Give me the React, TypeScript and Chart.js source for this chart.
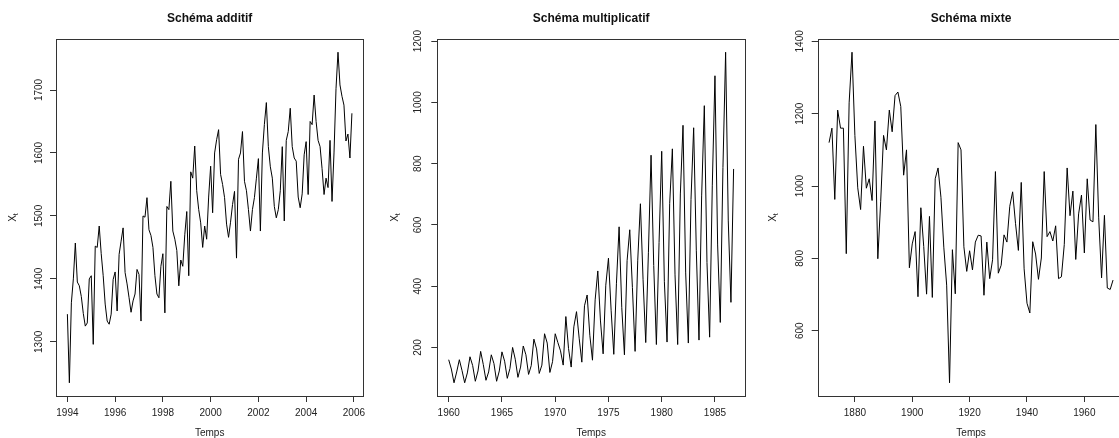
import React, { useEffect, useRef } from "react";
import { Chart, registerables } from "chart.js";

Chart.register(...registerables);

const FONT = "'Liberation Sans', Arial, Helvetica, sans-serif";

// ---- Schéma additif : série mensuelle 1994-2005 ----
const additifStart = 1994;
const additifFreq = 12;
const additifValues = [
  1344, 1235, 1362, 1400, 1457, 1395, 1389, 1372, 1345, 1325, 1330, 1400,
  1405, 1296, 1452, 1450, 1484, 1440, 1405, 1360, 1333, 1328, 1344, 1399,
  1411, 1349, 1439, 1460, 1481, 1410, 1392, 1370, 1347, 1365, 1376, 1415,
  1407, 1333, 1500, 1498, 1529, 1478, 1469, 1450, 1405, 1376, 1370, 1420,
  1440, 1346, 1515, 1510, 1555, 1476, 1463, 1445, 1389, 1430, 1420, 1470,
  1507, 1405, 1570, 1560, 1611, 1540, 1510, 1489, 1450, 1484, 1463, 1530,
  1579, 1505, 1600, 1621, 1637, 1566, 1550, 1529, 1487, 1466, 1490, 1518,
  1539, 1433, 1590, 1600, 1634, 1555, 1540, 1510, 1476, 1510, 1529, 1560,
  1591, 1476, 1600, 1645, 1680, 1610, 1578, 1560, 1515, 1497, 1510, 1540,
  1610, 1492, 1620, 1634, 1671, 1610, 1592, 1587, 1530, 1513, 1535, 1597,
  1618, 1534, 1650, 1645, 1692, 1650, 1620, 1610, 1575, 1534, 1560, 1545,
  1620, 1523, 1600, 1702, 1760, 1708, 1690, 1676, 1619, 1630, 1592, 1663,
];
const additifXTicks = [1994, 1996, 1998, 2000, 2002, 2004, 2006];
const additifYTicks = [1300, 1400, 1500, 1600, 1700];

// ---- Schéma multiplicatif : série trimestrielle 1960-1986 ----
const multStart = 1960;
const multFreq = 4;
const multValues = [
  160.1, 129.7, 84.8, 120.1,
  160.1, 124.9, 84.8, 116.9,
  169.7, 140.9, 89.7, 123.3,
  187.3, 144.1, 92.9, 120.1,
  176.1, 147.3, 89.7, 123.3,
  185.7, 155.3, 99.3, 131.3,
  200.1, 161.7, 102.5, 136.1,
  204.9, 176.1, 112.1, 140.9,
  227.3, 195.3, 115.3, 142.5,
  244.9, 214.5, 118.5, 153.7,
  244.9, 216.1, 188.9, 142.5,
  301.0, 196.9, 136.1, 267.3,
  317.0, 230.5, 152.1, 336.2,
  371.4, 240.1, 158.5, 355.4,
  449.9, 286.6, 179.3, 403.4,
  491.5, 321.8, 177.7, 409.8,
  593.9, 329.8, 176.1, 483.5,
  584.3, 395.4, 187.3, 485.1,
  669.2, 421.0, 216.1, 509.1,
  827.7, 467.5, 209.7, 542.7,
  840.5, 414.6, 217.7, 670.8,
  848.5, 437.0, 209.7, 701.2,
  925.3, 443.4, 214.5, 683.6,
  917.3, 515.5, 224.1, 694.8,
  989.4, 477.1, 233.7, 730.0,
  1087.0, 534.7, 281.8, 787.6,
  1163.9, 613.1, 347.4, 782.8,
];
const multXTicks = [1960, 1965, 1970, 1975, 1980, 1985];
const multYTicks = [200, 400, 600, 800, 1000, 1200];

// ---- Schéma mixte : série annuelle 1871-1970 ----
const mixteStart = 1871;
const mixteFreq = 1;
const mixteValues = [
  1120, 1160, 963, 1210, 1160, 1160, 813, 1230, 1370, 1140,
  995, 935, 1110, 994, 1020, 960, 1180, 799, 958, 1140,
  1100, 1210, 1150, 1250, 1260, 1220, 1030, 1100, 774, 840,
  874, 694, 940, 833, 701, 916, 692, 1020, 1050, 969,
  831, 726, 456, 824, 702, 1120, 1100, 832, 764, 821,
  768, 845, 864, 862, 698, 845, 744, 796, 1040, 759,
  781, 865, 845, 944, 984, 897, 822, 1010, 771, 676,
  649, 846, 812, 742, 801, 1040, 860, 874, 848, 890,
  744, 749, 838, 1050, 918, 986, 797, 923, 975, 815,
  1020, 906, 901, 1170, 912, 746, 919, 718, 714, 740,
];
const mixteXTicks = [1880, 1900, 1920, 1940, 1960];
const mixteYTicks = [600, 800, 1000, 1200, 1400];

const titles = ["Schéma additif", "Schéma multiplicatif", "Schéma mixte"];
const xAxisLabel = "Temps";

const PAGE_H = 438;
const PLOT_TOP = 39;
const PLOT_BOTTOM = 396;

function ext(lo: number, hi: number) {
  const d = (hi - lo) * 0.04;
  return [lo - d, hi + d];
}

const rLook = {
  id: "rLook",
  afterDraw(chart: any, _args: any, opts: any) {
    const { ctx, chartArea: a } = chart;
    ctx.save();
    ctx.strokeStyle = "#333";
    ctx.lineWidth = 1;
    const l = Math.round(a.left) + 0.5;
    const t = Math.round(a.top) + 0.5;
    const r = Math.round(a.right) + 0.5;
    const b = Math.round(a.bottom) + 0.5;
    ctx.strokeRect(l, t, r - l, b - t);
    const cx = (a.left + a.right) / 2;
    ctx.fillStyle = "#111";
    ctx.textAlign = "center";
    ctx.textBaseline = "middle";
    ctx.font = `bold 12px ${FONT}`;
    ctx.fillText(opts.title, cx, 19);
    ctx.font = `10px ${FONT}`;
    ctx.fillStyle = "#222";
    ctx.fillText(xAxisLabel, cx, 433);
    // y label X_t
    ctx.translate(opts.yLabelX, (a.top + a.bottom) / 2);
    ctx.rotate(-Math.PI / 2);
    ctx.font = `10px ${FONT}`;
    const wX = ctx.measureText("X").width;
    ctx.font = `7px ${FONT}`;
    const wt = ctx.measureText("t").width;
    const start = -(wX + wt) / 2;
    ctx.textAlign = "left";
    ctx.font = `10px ${FONT}`;
    ctx.fillText("X", start, 0);
    ctx.font = `7px ${FONT}`;
    ctx.fillText("t", start + wX, 3);
    ctx.restore();
  },
};

type PanelProps = {
  left: number;
  width: number;
  plotLeft: number;
  plotRight: number;
  yLabelX: number;
  yPad: number;
  title: string;
  values: number[];
  start: number;
  freq: number;
  xTicks: number[];
  yTicks: number[];
};

function Panel(p: PanelProps) {
  const ref = useRef<HTMLCanvasElement>(null);
  useEffect(() => {
    if (!ref.current) return;
    const pts = p.values.map((v, i) => ({ x: p.start + i / p.freq, y: v }));
    const [xmin, xmax] = ext(p.start, p.start + (p.values.length - 1) / p.freq);
    const [ymin, ymax] = ext(Math.min(...p.values), Math.max(...p.values));
    const gridOpts = {
      drawOnChartArea: false,
      drawTicks: true,
      tickLength: 6,
      color: "#333",
      lineWidth: 1,
    };
    const chart = new Chart(ref.current, {
      type: "line",
      data: {
        datasets: [
          {
            data: pts,
            borderColor: "#000",
            borderWidth: 1,
            pointRadius: 0,
            tension: 0,
            fill: false,
          },
        ],
      },
      options: {
        responsive: false,
        animation: false,
        events: [],
        layout: {
          padding: { left: 0, right: p.width - p.plotRight, top: PLOT_TOP, bottom: 0 },
        },
        plugins: {
          legend: { display: false },
          tooltip: { enabled: false },
          title: { display: false },
          rLook: { title: p.title, yLabelX: p.yLabelX - p.left },
        } as any,
        scales: {
          x: {
            type: "linear",
            min: xmin,
            max: xmax,
            afterBuildTicks: (s: any) => {
              s.ticks = p.xTicks.map((v) => ({ value: v }));
            },
            afterFit: (s: any) => {
              s.height = PAGE_H - PLOT_BOTTOM;
            },
            grid: gridOpts,
            border: { display: false },
            ticks: {
              font: { family: FONT, size: 10 },
              color: "#222",
              padding: 5,
              maxRotation: 0,
              autoSkip: false,
              callback: (v: any) => String(v),
            },
          },
          y: {
            type: "linear",
            min: ymin,
            max: ymax,
            afterBuildTicks: (s: any) => {
              s.ticks = p.yTicks.map((v) => ({ value: v }));
            },
            afterFit: (s: any) => {
              s.width = p.plotLeft - p.left;
            },
            grid: gridOpts,
            border: { display: false },
            ticks: {
              font: { family: FONT, size: 10 },
              color: "#222",
              padding: p.yPad,
              minRotation: 90,
              maxRotation: 90,
              crossAlign: "center",
              autoSkip: false,
              callback: (v: any) => String(v),
            },
          },
        },
      } as any,
      plugins: [rLook],
    });
    return () => chart.destroy();
  }, []);
  return (
    <canvas
      ref={ref}
      width={p.width}
      height={PAGE_H}
      style={{ position: "absolute", left: p.left, top: 0, width: p.width, height: PAGE_H }}
    />
  );
}

export default function App() {
  return (
    <div
      style={{
        position: "fixed",
        left: 0,
        top: 0,
        width: 1119,
        height: PAGE_H,
        overflow: "hidden",
        background: "#fff",
      }}
    >
      <Panel
        left={0}
        width={375}
        plotLeft={56}
        plotRight={363.3}
        yLabelX={13}
        yPad={0}
        title={titles[0]}
        values={additifValues}
        start={additifStart}
        freq={additifFreq}
        xTicks={additifXTicks}
        yTicks={additifYTicks}
      />
      <Panel
        left={375}
        width={375}
        plotLeft={437.3}
        plotRight={370}
        yLabelX={395}
        yPad={1.5}
        title={titles[1]}
        values={multValues}
        start={multStart}
        freq={multFreq}
        xTicks={multXTicks}
        yTicks={multYTicks}
      />
      <Panel
        left={750}
        width={380}
        plotLeft={817.7}
        plotRight={374.4}
        yLabelX={773}
        yPad={0}
        title={titles[2]}
        values={mixteValues}
        start={mixteStart}
        freq={mixteFreq}
        xTicks={mixteXTicks}
        yTicks={mixteYTicks}
      />
    </div>
  );
}
